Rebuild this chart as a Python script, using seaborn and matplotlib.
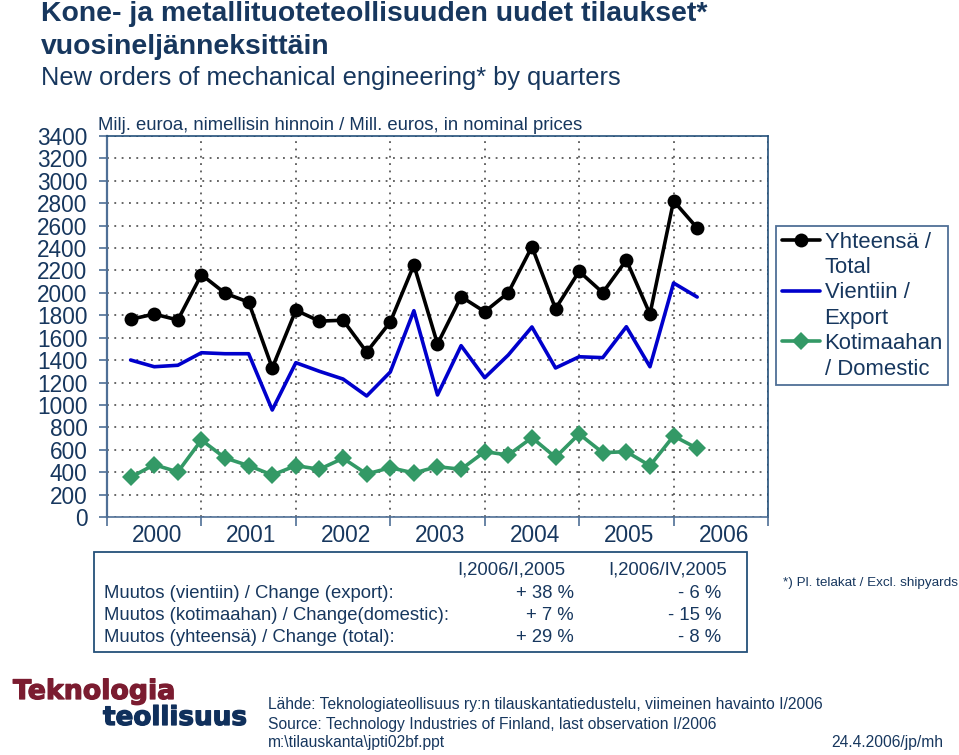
import numpy as np
import pandas as pd
import seaborn as sns
import matplotlib.pyplot as plt
import matplotlib.patheffects as pe
from matplotlib.lines import Line2D
from matplotlib.patches import Rectangle
from matplotlib.ticker import MultipleLocator

# quarters 2000Q1 ... 2006Q1
years = [2000]*4 + [2001]*4 + [2002]*4 + [2003]*4 + [2004]*4 + [2005]*4 + [2006]
quarters = [1, 2, 3, 4]*6 + [1]

total = [1764, 1811, 1758, 2163, 1997, 1917, 1330, 1845, 1748, 1756, 1472, 1740, 2249,
         1544, 1966, 1832, 2002, 2412, 1859, 2192, 2002, 2293, 1811, 2820, 2579]
export = [1401, 1341, 1354, 1466, 1457, 1457, 955, 1377, 1300, 1231, 1080, 1294, 1841,
          1089, 1529, 1243, 1446, 1696, 1330, 1430, 1422, 1698, 1341, 2088, 1963]
domestic = [354, 467, 402, 687, 527, 458, 375, 458, 426, 524, 384, 440, 393,
            449, 426, 583, 553, 708, 533, 741, 574, 583, 458, 723, 613]

year_labels = ['2000', '2001', '2002', '2003', '2004', '2005', '2006']
series_labels = ['Yhteensä /', 'Total', 'Vientiin /', 'Export', 'Kotimaahan', '/ Domestic']

table_head = ['I,2006/I,2005', 'I,2006/IV,2005']
table_rows = ['Muutos (vientiin) / Change (export):',
              'Muutos (kotimaahan) / Change(domestic):',
              'Muutos (yhteensä) / Change (total):']
table_col1 = ['+ 38 %', '+ 7 %', '+ 29 %']
table_col2 = ['- 6 %', '- 15 %', '- 8 %']

W, H = 959, 755
NAVY = '#17375e'
AXC = '#4f6f96'

sns.set_style('ticks')
plt.rcParams['font.family'] = ['Liberation Sans', 'DejaVu Sans']

fig = plt.figure(figsize=(W/100, H/100), dpi=100)
ax = fig.add_axes([107/W, 1-517/H, (768-107)/W, (517-136)/H])

df = pd.DataFrame({'year': years, 'quarter': quarters, 'total': total,
                   'export': export, 'domestic': domestic})
# points sit at the end of each quarter
df['pos'] = df['year'] + df['quarter']/4

sns.lineplot(data=df, x='pos', y='total', ax=ax, color='black', lw=2.6,
             marker='o', ms=10, mec='black', mew=0, label=series_labels[0])
sns.lineplot(data=df, x='pos', y='export', ax=ax, color='#0000cc', lw=2.6,
             label=series_labels[2])
sns.lineplot(data=df, x='pos', y='domestic', ax=ax, color='#339966', lw=2.6,
             marker='D', ms=9, mec='#339966', mew=0, label=series_labels[4])

ax.set_xlim(2000, 2007)
ax.set_ylim(0, 3400)
ax.set_xlabel('')
ax.set_ylabel('')

ax.yaxis.set_major_locator(MultipleLocator(200))
ax.tick_params(axis='y', length=6, width=1.2, color=AXC, pad=8, labelsize=16.3, labelcolor=NAVY)
ax.set_xticks(np.arange(2000, 2008))
ax.set_xticklabels([])
ax.tick_params(axis='x', which='major', length=6.5, width=1.2, color=AXC)
ax.set_xticks(np.arange(2000, 2007)+0.53, minor=True)
ax.set_xticklabels(year_labels, minor=True)
ax.tick_params(axis='x', which='minor', length=0, pad=5, labelsize=16.3, labelcolor=NAVY)

ax.set_axisbelow(True)
ax.grid(True, which='major', color='#3c3c3c', ls=(0, (1.2, 3.6)), lw=1.1)
for s in ax.spines.values():
    s.set_color(AXC)
    s.set_linewidth(1.2)
ax.spines['left'].set_linewidth(1.6)
ax.spines['top'].set_color('#24507a')
ax.spines['right'].set_color('#24507a')

# legend has one row per text line, the line sample only on the first
h, l = ax.get_legend_handles_labels()
blank = Line2D([], [], color='none')
leg = ax.legend([h[0], blank, h[1], blank, h[2], blank], series_labels,
                loc='upper left', bbox_to_anchor=(776/W, 1-226/H), bbox_transform=fig.transFigure,
                fontsize=15.9, labelcolor=NAVY, frameon=True, fancybox=False, framealpha=1,
                edgecolor=AXC, borderaxespad=0, borderpad=0.25, labelspacing=0.2,
                handlelength=1.75, handletextpad=0.2)
leg.get_frame().set_linewidth(1.3)


def put(x, y, s, size, **kw):
    kw.setdefault('color', NAVY)
    kw.setdefault('va', 'center')
    return fig.text(x/W, 1-y/H, s, fontsize=size, **kw)


# titles
put(41, 14, 'Kone- ja metallituoteteollisuuden uudet tilaukset*', 20.4, fontweight='bold')
put(41, 47, 'vuosineljänneksittäin', 20.4, fontweight='bold')
put(41, 78, 'New orders of mechanical engineering* by quarters', 18.3)
put(98, 126, 'Milj. euroa, nimellisin hinnoin / Mill. euros, in nominal prices', 13.3)

# change table
fig.add_artist(Rectangle((94/W, 1-652/H), (747-94)/W, 100/H, transform=fig.transFigure,
                         fc='white', ec='#24507a', lw=1.3))
put(565, 570, table_head[0], 13.35, ha='right')
put(727, 570, table_head[1], 13.35, ha='right')
row_y = [593, 615, 638]
for i in range(3):
    put(104, row_y[i], table_rows[i], 13.35)
    put(574, row_y[i], table_col1[i], 13.35, ha='right')
    put(721, row_y[i], table_col2[i], 13.35, ha='right')

put(783, 583, '*) Pl. telakat / Excl. shipyards', 9.7)

# logo and source
t1 = put(13, 699, 'Teknologia', 19.3, color='#7b1c30', fontweight='bold',
         family='DejaVu Sans', va='baseline')
t2 = put(103, 725, 'teollisuus', 18.9, color='#10305c', fontweight='bold',
         family='DejaVu Sans', va='baseline')
for t in (t1, t2):
    t.set_path_effects([pe.withStroke(linewidth=0.9, foreground=t.get_color())])
put(268, 705, 'Lähde: Teknologiateollisuus ry:n tilauskantatiedustelu, viimeinen havainto I/2006', 11.25)
put(268, 724, 'Source: Technology Industries of Finland, last observation I/2006', 11.25)
put(268, 743, 'm:\\tilauskanta\\jpti02bf.ppt', 11.25)
put(943, 743, '24.4.2006/jp/mh', 11.25, ha='right')

fig.savefig('out.png', dpi=100)
